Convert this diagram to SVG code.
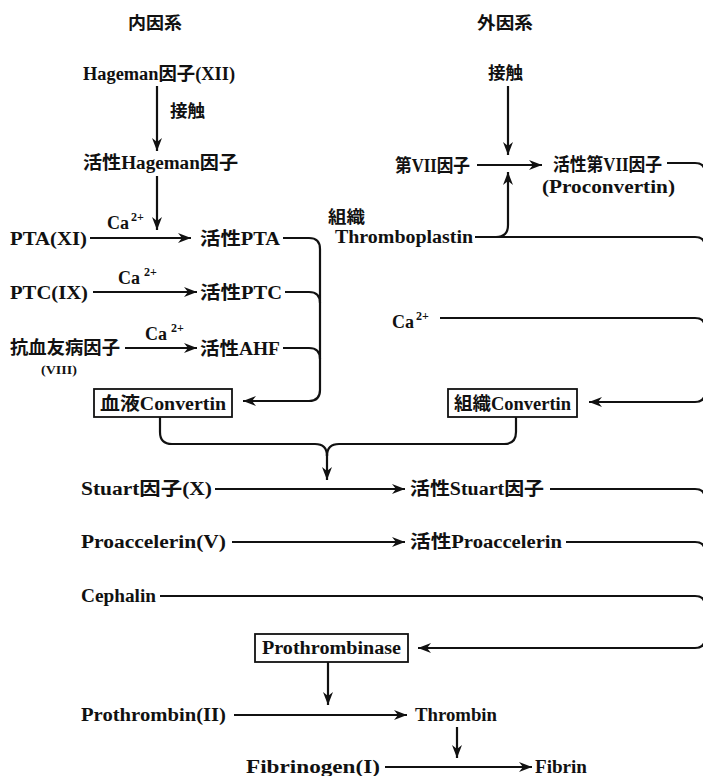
<svg xmlns="http://www.w3.org/2000/svg" width="703" height="776" viewBox="0 0 703 776">
  <style>
    text { font-family: "Liberation Serif", "Noto Sans CJK JP", serif; font-weight: bold; font-size: 18px; fill: #111; }
    .cjk { font-family: "Noto Sans CJK JP", sans-serif; font-size: 17px; }
    .sup { font-size: 12px; }
    .small { font-size: 13px; }
    .box { fill: #fff; stroke: #111; stroke-width: 1.8; }
    .ln { fill: none; stroke: #111; stroke-width: 2.2; }
    .ar { fill: none; stroke: #111; stroke-width: 2.2; marker-end: url(#head); }
  </style>
  <defs>
    <marker id="head" markerUnits="userSpaceOnUse" markerWidth="14" markerHeight="11" refX="13" refY="5.5" orient="auto">
      <path d="M0,0.5 L13,5.5 L0,10.5 L4,5.5 Z" fill="#111"/>
    </marker>
  </defs>
  <rect width="703" height="776" fill="#fff"/>

  <!-- column headings -->
  <g id="intrinsic-title"><text class="cjk" x="128" y="29" textLength="54" lengthAdjust="spacingAndGlyphs">内因系</text></g>
  <g id="extrinsic-title"><text class="cjk" x="477" y="29" textLength="56" lengthAdjust="spacingAndGlyphs">外因系</text></g>

  <!-- intrinsic pathway -->
  <g id="hageman"><text x="83" y="80" textLength="152" lengthAdjust="spacingAndGlyphs">Hageman因子(XII)</text></g>
  <g id="contact-left"><text class="cjk" x="170" y="117" textLength="35" lengthAdjust="spacingAndGlyphs">接触</text></g>
  <g id="active-hageman"><text x="83" y="169" textLength="155" lengthAdjust="spacingAndGlyphs">活性Hageman因子</text></g>

  <g id="pta"><text x="10" y="245" textLength="77" lengthAdjust="spacingAndGlyphs">PTA(XI)</text></g>
  <g id="ca-pta"><text x="107" y="229">Ca<tspan class="sup" dx="2" dy="-8">2+</tspan></text></g>
  <g id="active-pta"><text x="200" y="245" textLength="80" lengthAdjust="spacingAndGlyphs">活性PTA</text></g>

  <g id="ptc"><text x="10" y="299" textLength="78" lengthAdjust="spacingAndGlyphs">PTC(IX)</text></g>
  <g id="ca-ptc"><text x="118" y="284">Ca<tspan class="sup" dx="4" dy="-8">2+</tspan></text></g>
  <g id="active-ptc"><text x="200" y="299" textLength="82" lengthAdjust="spacingAndGlyphs">活性PTC</text></g>

  <g id="ahf">
    <text x="10" y="354" textLength="110" lengthAdjust="spacingAndGlyphs">抗血友病因子</text>
    <text class="small" x="41" y="374" textLength="36" lengthAdjust="spacingAndGlyphs">(VIII)</text>
  </g>
  <g id="ca-ahf"><text x="145" y="340">Ca<tspan class="sup" dx="4" dy="-8">2+</tspan></text></g>
  <g id="active-ahf"><text x="200" y="355" textLength="80" lengthAdjust="spacingAndGlyphs">活性AHF</text></g>

  <g id="blood-convertin">
    <rect class="box" x="94" y="389" width="138" height="28"/>
    <text x="100" y="410" textLength="126" lengthAdjust="spacingAndGlyphs">血液Convertin</text>
  </g>

  <!-- extrinsic pathway -->
  <g id="contact-right"><text class="cjk" x="488" y="79" textLength="35" lengthAdjust="spacingAndGlyphs">接触</text></g>
  <g id="factor-vii"><text x="395" y="172" textLength="75" lengthAdjust="spacingAndGlyphs">第VII因子</text></g>
  <g id="active-vii">
    <text x="553" y="171" textLength="109" lengthAdjust="spacingAndGlyphs">活性第VII因子</text>
    <text x="542" y="193" textLength="133" lengthAdjust="spacingAndGlyphs">(Proconvertin)</text>
  </g>
  <g id="tissue-thromboplastin">
    <text class="cjk" x="328" y="223" textLength="37" lengthAdjust="spacingAndGlyphs">組織</text>
    <text x="335" y="243" textLength="138" lengthAdjust="spacingAndGlyphs">Thromboplastin</text>
  </g>
  <g id="ca-extrinsic"><text x="392" y="328">Ca<tspan class="sup" dx="2" dy="-8">2+</tspan></text></g>
  <g id="tissue-convertin">
    <rect class="box" x="448" y="389" width="129" height="28"/>
    <text x="454" y="410" textLength="117" lengthAdjust="spacingAndGlyphs">組織Convertin</text>
  </g>

  <!-- common pathway -->
  <g id="stuart"><text x="81" y="495" textLength="131" lengthAdjust="spacingAndGlyphs">Stuart因子(X)</text></g>
  <g id="active-stuart"><text x="410" y="495" textLength="134" lengthAdjust="spacingAndGlyphs">活性Stuart因子</text></g>
  <g id="proaccelerin"><text x="81" y="548" textLength="145" lengthAdjust="spacingAndGlyphs">Proaccelerin(V)</text></g>
  <g id="active-proaccelerin"><text x="410" y="548" textLength="152" lengthAdjust="spacingAndGlyphs">活性Proaccelerin</text></g>
  <g id="cephalin"><text x="81" y="602" textLength="75" lengthAdjust="spacingAndGlyphs">Cephalin</text></g>
  <g id="prothrombinase">
    <rect class="box" x="255" y="634" width="153" height="28"/>
    <text x="262" y="654" textLength="139" lengthAdjust="spacingAndGlyphs">Prothrombinase</text>
  </g>
  <g id="prothrombin"><text x="81" y="721" textLength="145" lengthAdjust="spacingAndGlyphs">Prothrombin(II)</text></g>
  <g id="thrombin"><text x="415" y="721" textLength="82" lengthAdjust="spacingAndGlyphs">Thrombin</text></g>
  <g id="fibrinogen"><text x="246" y="773" textLength="134" lengthAdjust="spacingAndGlyphs">Fibrinogen(I)</text></g>
  <g id="fibrin"><text x="535" y="773" textLength="52" lengthAdjust="spacingAndGlyphs">Fibrin</text></g>

  <g id="connectors">
    <!-- intrinsic -->
    <path class="ar" d="M157,86 V151"/>
    <path class="ar" d="M157,176 V230"/>
    <path class="ar" d="M90,238 H191"/>
    <path class="ar" d="M93,292 H197"/>
    <path class="ar" d="M125,348 H197"/>
    <path class="ar" d="M283,238 H309 Q320,238 320,249 V390 Q320,401 309,401 H243"/>
    <path class="ln" d="M285,292 H309 Q320,292 320,303"/>
    <path class="ln" d="M283,348 H309 Q320,348 320,359"/>

    <!-- extrinsic; the collecting bus runs just past the right edge -->
    <path class="ar" d="M508,86 V155"/>
    <path class="ar" d="M477,165 H542"/>
    <path class="ar" d="M475,237 H496 Q508,237 508,225 V172"/>
    <path class="ln" d="M667,163 H695 Q705,163 705,173"/>
    <path class="ln" d="M475,237 H695 Q705,237 705,247"/>
    <path class="ln" d="M440,318 H695 Q705,318 705,328"/>
    <path class="ar" d="M705,173 V392 Q705,402 695,402 H589"/>

    <!-- merge of both convertins -->
    <path class="ln" d="M160,417 V432 Q160,444 172,444 H315 Q327,444 327,456"/>
    <path class="ln" d="M516,417 V432 Q516,444 504,444 H339 Q327,444 327,456"/>
    <path class="ar" d="M327,454 V480"/>

    <!-- common -->
    <path class="ar" d="M215,489 H405"/>
    <path class="ar" d="M232,542 H405"/>
    <path class="ln" d="M550,489 H695 Q705,489 705,499"/>
    <path class="ln" d="M566,542 H695 Q705,542 705,552"/>
    <path class="ln" d="M160,596 H695 Q705,596 705,606"/>
    <path class="ar" d="M705,499 V638 Q705,648 695,648 H418"/>
    <path class="ar" d="M328,662 V705"/>
    <path class="ar" d="M234,715 H407"/>
    <path class="ar" d="M457,727 V758"/>
    <path class="ar" d="M385,767 H532"/>
  </g>
</svg>
